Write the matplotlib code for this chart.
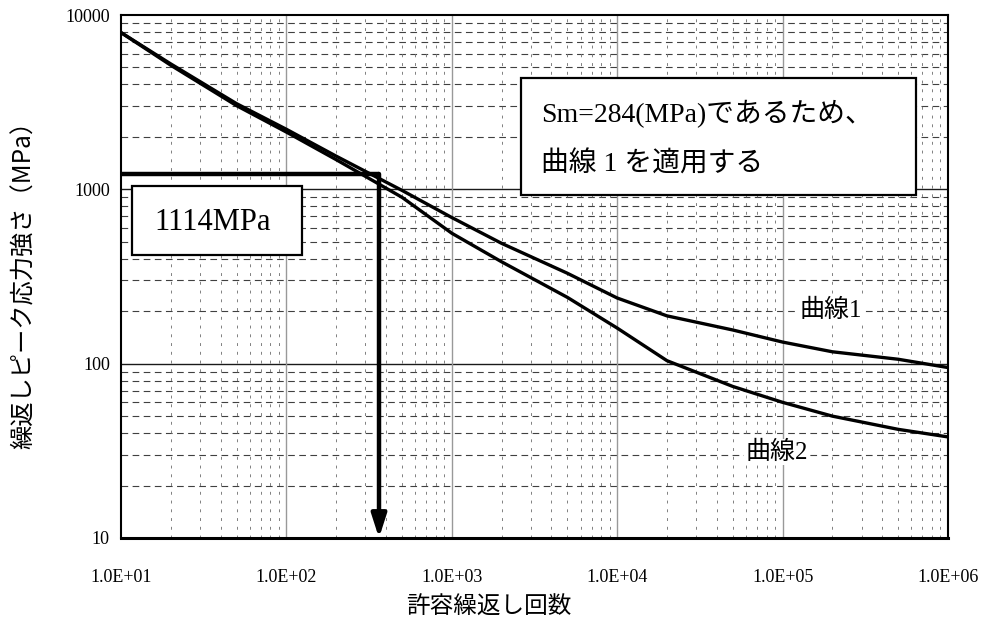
import numpy as np
import matplotlib
matplotlib.use("Agg")
import matplotlib.pyplot as plt
from matplotlib.patches import Rectangle
from matplotlib.ticker import FixedLocator, NullFormatter


# allowable cycles and the two design fatigue curves (MPa)
cycles = [1e1, 2e1, 5e1, 1e2, 2e2, 5e2, 1e3, 2e3, 5e3, 1e4, 2e4, 5e4, 1e5, 2e5, 5e5, 1e6]
curve1 = [7930, 5240, 3100, 2210, 1550, 986, 689, 490, 330, 238, 188, 156, 133, 117, 106, 95]
curve2 = [7930, 5150, 3020, 2130, 1480, 900, 560, 384, 240, 160, 104, 74, 60, 50, 42, 38]

# reading of the allowable cycles at the peak stress
peak_stress = 1225
peak_cycles = 363

x_ticks  = [1e1, 1e2, 1e3, 1e4, 1e5, 1e6]
x_labels = ['1.0E+01', '1.0E+02', '1.0E+03', '1.0E+04', '1.0E+05', '1.0E+06']
y_ticks  = [10, 100, 1000, 10000]
y_labels = ['10', '100', '1000', '10000']

JP    = ['Noto Sans CJK JP', 'DejaVu Sans']
SERIF = ['Liberation Serif', 'Noto Sans CJK JP']


def minor_positions(lo, hi):
    out = []
    d = lo
    while d < hi:
        out += [d * k for k in range(2, 10)]
        d *= 10
    return out


fig = plt.figure(figsize=(9.9, 6.26), dpi=100)
ax  = fig.add_axes([121 / 990, 1 - 538 / 626, 827 / 990, 523 / 626])

ax.set_xscale('log')
ax.set_yscale('log')
ax.set_xlim(10, 1e6)
ax.set_ylim(10, 10000)

# grid: solid decades, dashed minors
for v in minor_positions(10, 10000):
    ax.axhline(v, color='0.25', lw=0.8, ls=(0, (6, 4)), zorder=1)
for v in minor_positions(10, 1e6):
    ax.axvline(v, color='0.5', lw=0.7, ls=(0, (3, 6)), zorder=1)
for v in y_ticks[1:-1]:
    ax.axhline(v, color='0.1', lw=1.0, zorder=1)
for v in x_ticks[1:-1]:
    ax.axvline(v, color='0.6', lw=1.0, zorder=1)

ax.plot(cycles, curve1, color='black', lw=2.4, zorder=3)
ax.plot(cycles, curve2, color='black', lw=2.4, zorder=3)

# peak stress line and arrow down to the allowable cycles
ax.plot([10, peak_cycles], [peak_stress, peak_stress], color='black', lw=3.2,
        solid_capstyle='butt', zorder=4)
ax.annotate('', xy=(peak_cycles, 10), xytext=(peak_cycles, peak_stress),
            arrowprops=dict(arrowstyle='-|>,head_width=0.45,head_length=1.4',
                            color='black', lw=3.2, shrinkA=0, shrinkB=0),
            zorder=5)

ax.xaxis.set_major_locator(FixedLocator(x_ticks))
ax.yaxis.set_major_locator(FixedLocator(y_ticks))
ax.xaxis.set_minor_formatter(NullFormatter())
ax.yaxis.set_minor_formatter(NullFormatter())
ax.set_xticklabels(x_labels, family=SERIF, fontsize=13)
ax.set_yticklabels(y_labels, family=SERIF, fontsize=13)
ax.tick_params(which='both', length=0)
ax.tick_params(axis='x', pad=22)
ax.tick_params(axis='y', pad=8)

for s in ax.spines.values():
    s.set_linewidth(1.5)
ax.spines['bottom'].set_linewidth(2.2)

ax.set_xlabel('許容繰返し回数', family=JP, fontsize=17)
ax.xaxis.set_label_coords(0.445, -0.111)
ax.set_ylabel('繰返しピーク応力強さ（MPa）', family=JP, fontsize=17.5)
ax.yaxis.set_label_coords(-0.102, 0.495)

# note box
ax.add_patch(Rectangle((0.484, 0.655), 0.477, 0.224, transform=ax.transAxes,
                       facecolor='white', edgecolor='black', lw=1.6, zorder=6))
ax.text(0.508, 0.81, 'Sm=284(MPa)であるため、', transform=ax.transAxes,
        family=SERIF, fontsize=20, va='center', ha='left', zorder=7)
ax.text(0.508, 0.715, '曲線 1 を適用する', transform=ax.transAxes,
        family=SERIF, fontsize=20, va='center', ha='left', zorder=7)

# reading box
ax.add_patch(Rectangle((0.0133, 0.541), 0.206, 0.132, transform=ax.transAxes,
                       facecolor='white', edgecolor='black', lw=1.6, zorder=6))
ax.text(0.111, 0.604, '1114MPa', transform=ax.transAxes,
        family=SERIF, fontsize=22, va='center', ha='center', zorder=7)

ax.text(0.858, 0.436, '曲線1', transform=ax.transAxes, family=SERIF, fontsize=18,
        va='center', ha='center', zorder=7,
        bbox=dict(facecolor='white', edgecolor='none', pad=1))
ax.text(0.793, 0.164, '曲線2', transform=ax.transAxes, family=SERIF, fontsize=18,
        va='center', ha='center', zorder=7,
        bbox=dict(facecolor='white', edgecolor='none', pad=1))

fig.savefig('out.png', dpi=100)
